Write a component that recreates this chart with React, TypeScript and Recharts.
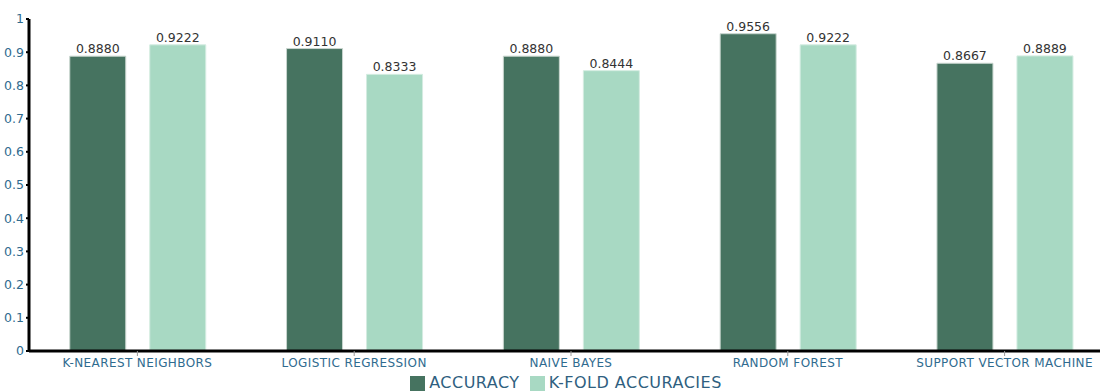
import React from "react";
import { BarChart, Bar, XAxis, YAxis, Legend, LabelList } from "recharts";

const categories = [
  "K-NEAREST NEIGHBORS",
  "LOGISTIC REGRESSION",
  "NAIVE BAYES",
  "RANDOM FOREST",
  "SUPPORT VECTOR MACHINE",
];
const accuracy = [0.888, 0.911, 0.888, 0.9556, 0.8667];
const kfold = [0.9222, 0.8333, 0.8444, 0.9222, 0.8889];
const yTicks = [0, 0.1, 0.2, 0.3, 0.4, 0.5, 0.6, 0.7, 0.8, 0.9, 1];

const data = categories.map((name, i) => ({
  name,
  accuracy: accuracy[i],
  kfold: kfold[i],
}));

const font = "'DejaVu Sans', 'Open Sans', sans-serif";
const fmt = (v: any) => Number(v).toFixed(4);

export default function App() {
  return (
    <div style={{ position: "absolute", left: 0, top: 0, width: 1100, height: 391, background: "#fff", overflow: "hidden" }}>
      <BarChart
        width={1113}
        height={391}
        data={data}
        margin={{ top: 19, right: 0, left: 0, bottom: 0 }}
        barGap={24}
        barCategoryGap="18.8%"
      >
        <YAxis
          domain={[0, 1]}
          ticks={yTicks}
          interval={0}
          width={29}
          axisLine={{ stroke: "#000", strokeWidth: 3 }}
          tickLine={{ stroke: "#000", strokeWidth: 2 }}
          tickSize={3}
          tick={{ fill: "#2f6b8f", fontSize: 12.5, fontFamily: font }}
        />
        <XAxis
          dataKey="name"
          height={22}
          interval={0}
          axisLine={{ stroke: "#000", strokeWidth: 3 }}
          tickLine={{ stroke: "#999", strokeWidth: 1 }}
          tickSize={5}
          tick={{ fill: "#2f6b8f", fontSize: 12, fontFamily: font, letterSpacing: 0.4 }}
        />
        <Legend
          verticalAlign="bottom"
          height={18}
          iconType="square"
          iconSize={15}
          wrapperStyle={{ fontFamily: font, fontSize: 16, letterSpacing: 0.5, left: 29, width: 1084, bottom: -2, lineHeight: "16px" }}
          formatter={(value: any) => <span style={{ color: "#2f5f80" }}>{value}</span>}
        />
        <Bar
          dataKey="accuracy"
          name="ACCURACY"
          fill="#467360"
          stroke="#c9d6cf"
          strokeWidth={1}
          isAnimationActive={false}
        >
          <LabelList dataKey="accuracy" position="top" formatter={fmt} offset={3} style={{ fill: "#333", fontSize: 12.5, fontFamily: font }} />
        </Bar>
        <Bar
          dataKey="kfold"
          name="K-FOLD ACCURACIES"
          fill="#a8d9c3"
          stroke="#d4ece1"
          strokeWidth={1}
          isAnimationActive={false}
        >
          <LabelList dataKey="kfold" position="top" formatter={fmt} offset={3} style={{ fill: "#333", fontSize: 12.5, fontFamily: font }} />
        </Bar>
      </BarChart>
    </div>
  );
}
